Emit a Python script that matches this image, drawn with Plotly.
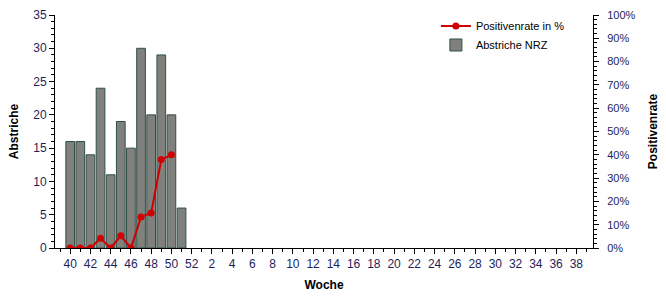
import plotly.graph_objects as go

# Weeks (season: week 40 to week 39 of next year)
weeks = [str(w) for w in list(range(40, 53)) + list(range(1, 40))]
abstriche = [16, 16, 14, 24, 11, 19, 15, 30, 20, 29, 20, 6]
positivenrate = [0, 0, 0, 4.17, 0, 5.26, 0, 13.33, 15.0, 37.93, 40.0]
tick_labels = [w for w in weeks if int(w) % 2 == 0]

pos = list(range(len(weeks)))
bar_x = pos[:len(abstriche)]
line_x = pos[:len(positivenrate)]
tick_pos = [pos[weeks.index(t)] for t in tick_labels]

FONT = "Arial, Liberation Sans, sans-serif"
TXT = "#1e1e5a"

fig = go.Figure()
fig.add_trace(go.Scatter(
    x=line_x, y=positivenrate, yaxis="y2", name="Positivenrate in %",
    mode="lines+markers",
    line=dict(color="#d00000", width=2),
    marker=dict(color="#d00000", size=7, symbol="circle"),
))
fig.add_trace(go.Bar(
    x=bar_x, y=abstriche, name="Abstriche NRZ",
    width=0.86,
    marker=dict(color="#80817c", line=dict(color="#2f4f4a", width=1)),
))

fig.update_layout(
    width=666, height=300,
    margin=dict(l=55, r=72, t=8, b=52),
    paper_bgcolor="white", plot_bgcolor="white",
    font=dict(family=FONT, size=11, color=TXT),
    showlegend=True,
    legend=dict(x=0.708, y=1.015, xanchor="left", yanchor="top",
                bgcolor="rgba(0,0,0,0)", font=dict(size=11, color="#000000"),
                tracegroupgap=0, itemwidth=30),
    xaxis=dict(
        range=[-1.5, 51.65], tickmode="array", tickvals=tick_pos, ticktext=tick_labels,
        showgrid=False, zeroline=False, showline=True, linecolor="black", linewidth=1,
        ticks="outside", ticklen=5, tickcolor="black",
        minor=dict(dtick=1, tick0=0, ticks="outside", ticklen=3, tickcolor="black", showgrid=False),
        tickfont=dict(size=12, color=TXT),
        title=dict(text="<b>Woche</b>", font=dict(size=12, color="black"), standoff=10),
    ),
    yaxis=dict(
        range=[0, 35], dtick=5, tick0=0,
        showgrid=False, zeroline=False, showline=True, linecolor="black", linewidth=1,
        ticks="outside", ticklen=5, tickcolor="black",
        minor=dict(dtick=1, ticks="outside", ticklen=3, tickcolor="black", showgrid=False),
        tickfont=dict(size=12, color=TXT),
        title=dict(text="<b>Abstriche</b>", font=dict(size=12, color="black"), standoff=12),
    ),
    yaxis2=dict(
        range=[0, 100], dtick=10, tick0=0, ticksuffix="%",
        overlaying="y", side="right",
        showgrid=False, zeroline=False, showline=True, linecolor="black", linewidth=1,
        ticks="outside", ticklen=5, tickcolor="black", ticklabelstandoff=6,
        minor=dict(dtick=2, ticks="outside", ticklen=3, tickcolor="black", showgrid=False),
        tickfont=dict(size=11, color=TXT),
        title=dict(text="<b>Positivenrate</b>", font=dict(size=12, color="black"), standoff=14),
    ),
    bargap=0.1,
)

fig.write_html("out.html")
